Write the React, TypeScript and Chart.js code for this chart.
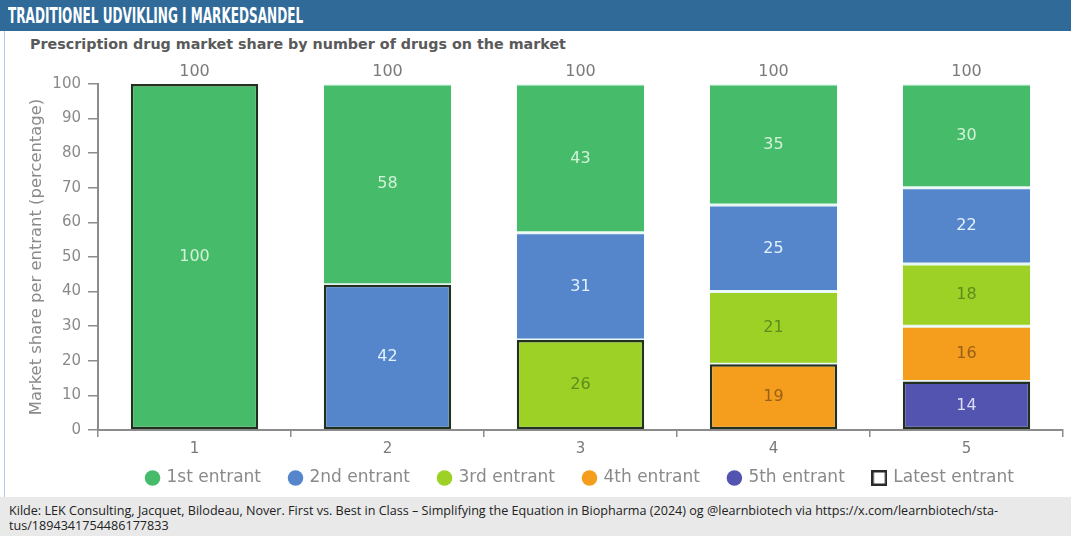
import React, { useEffect, useRef } from "react";
import { Chart, registerables } from "chart.js";

Chart.register(...registerables);

const categories = ["1", "2", "3", "4", "5"];
const firstEntrant = [100, 58, 43, 35, 30];
const secondEntrant = [null, 42, 31, 25, 22];
const thirdEntrant = [null, null, 26, 21, 18];
const fourthEntrant = [null, null, null, 19, 16];
const fifthEntrant = [null, null, null, null, 14];
const seriesNames = ["1st entrant", "2nd entrant", "3rd entrant", "4th entrant", "5th entrant"];
const latestLabel = "Latest entrant";
const yMin = 0;
const yMax = 100;
const yStep = 10;

const titleText = "TRADITIONEL UDVIKLING I MARKEDSANDEL";
const subtitleText = "Prescription drug market share by number of drugs on the market";
const yAxisTitle = "Market share per entrant (percentage)";
const sourceLine1 =
  "Kilde: LEK Consulting, Jacquet, Bilodeau, Nover. First vs. Best in Class – Simplifying the Equation in Biopharma (2024) og @learnbiotech via https://x.com/learnbiotech/sta-";
const sourceLine2 = "tus/1894341754486177833";

const seriesColors = ["#46bb69", "#5586cc", "#9dd125", "#f59d1c", "#5254b0"];
const labelColors = ["#d3f2da", "#e4f1ff", "#5e8c1e", "#99601a", "#dcdcf6"];
const FONT = "'DejaVu Sans', 'Open Sans', sans-serif";
const FOOT_FONT = "'Open Sans', 'Noto Sans', sans-serif";

export default function App() {
  const canvasRef = useRef<HTMLCanvasElement | null>(null);

  useEffect(() => {
    const canvas = canvasRef.current;
    if (!canvas) return;

    const sq = document.createElement("canvas");
    sq.width = 16;
    sq.height = 16;
    const sctx = sq.getContext("2d")!;
    sctx.fillStyle = "#ffffff";
    sctx.fillRect(0, 0, 16, 16);
    sctx.strokeStyle = "#2a2a2a";
    sctx.lineWidth = 2.5;
    sctx.strokeRect(1.25, 1.25, 13.5, 13.5);

    const series = [firstEntrant, secondEntrant, thirdEntrant, fourthEntrant, fifthEntrant];
    const datasets = series
      .map((data, k) => ({
        label: seriesNames[k],
        data,
        backgroundColor: seriesColors[k],
        labelColor: labelColors[k],
        borderColor: (c: any) => (c.dataIndex === k ? "#22301f" : "#e6f7f5"),
        borderWidth: (c: any) =>
          c.dataIndex === k ? 2.5 : { top: 1.5, bottom: 1.5, left: 0, right: 0 },
        borderSkipped: false,
        stack: "s",
      }))
      .reverse();

    const labelsPlugin = {
      id: "segLabels",
      afterLayout(chart: any) {
        const lg = chart.legend;
        const xs = chart.scales.x;
        if (lg && xs) {
          const h = lg.height;
          lg.top = xs.top + 10.5;
          lg.bottom = lg.top + h;
        }
      },
      afterDatasetsDraw(chart: any) {
        const ctx = chart.ctx;
        ctx.save();
        ctx.font = `16px ${FONT}`;
        ctx.textAlign = "center";
        ctx.textBaseline = "middle";
        chart.data.datasets.forEach((ds: any, di: number) => {
          const meta = chart.getDatasetMeta(di);
          meta.data.forEach((el: any, i: number) => {
            const v = ds.data[i];
            if (v == null) return;
            ctx.fillStyle = ds.labelColor;
            ctx.fillText(String(v), el.x, (el.y + el.base) / 2);
          });
        });
        categories.forEach((_, i) => {
          let top = Infinity;
          let total = 0;
          let xx = 0;
          chart.data.datasets.forEach((ds: any, di: number) => {
            const v = ds.data[i];
            if (v == null) return;
            total += v;
            const el = chart.getDatasetMeta(di).data[i];
            top = Math.min(top, el.y);
            xx = el.x;
          });
          ctx.fillStyle = "#7a7a7a";
          ctx.fillText(String(total), xx, top - 12);
        });
        ctx.restore();
      },
    };

    const chart = new Chart(canvas, {
      type: "bar",
      data: { labels: categories, datasets: datasets as any },
      plugins: [labelsPlugin],
      options: {
        animation: false,
        responsive: false,
        layout: { padding: { top: 28, right: 8, bottom: 3, left: 0 } },
        datasets: { bar: { categoryPercentage: 1, barPercentage: 0.66 } },
        plugins: {
          tooltip: { enabled: false },
          title: { display: false },
          legend: {
            position: "bottom",
            fullSize: false,
            onClick: () => {},
            labels: {
              usePointStyle: true,
              boxWidth: 11,
              boxHeight: 11,
              padding: 29,
              color: "#8a8a8a",
              font: { family: FONT, size: 17 },
              generateLabels: () => [
                ...seriesNames.map((n, k) => ({
                  text: n,
                  fillStyle: seriesColors[k],
                  strokeStyle: seriesColors[k],
                  lineWidth: 0,
                  pointStyle: "circle",
                  hidden: false,
                  fontColor: "#8a8a8a",
                  datasetIndex: 4 - k,
                })),
                {
                  text: latestLabel,
                  fillStyle: "#ffffff",
                  strokeStyle: "#2a2a2a",
                  lineWidth: 0,
                  pointStyle: sq,
                  hidden: false,
                  fontColor: "#8a8a8a",
                },
              ],
            },
          },
        },
        scales: {
          x: {
            stacked: true,
            afterFit: (s: any) => {
              s.height = 30;
            },
            grid: {
              offset: true,
              drawOnChartArea: false,
              drawTicks: true,
              tickLength: 7,
              color: "#8c8c8c",
              lineWidth: 1.5,
            },
            border: { color: "#8c8c8c", width: 2 },
            ticks: { color: "#7a7a7a", padding: 3, font: { family: FONT, size: 15 } },
          },
          y: {
            stacked: true,
            min: yMin,
            max: yMax,
            afterFit: (s: any) => {
              s.width = 98;
            },
            grid: {
              drawOnChartArea: false,
              drawTicks: true,
              tickLength: 10,
              color: "#8c8c8c",
              lineWidth: 1.5,
            },
            border: { color: "#8c8c8c", width: 2 },
            ticks: {
              stepSize: yStep,
              color: "#8a8a8a",
              padding: 7,
              font: { family: FONT, size: 15 },
            },
            title: {
              display: true,
              text: yAxisTitle,
              color: "#8a8a8a",
              padding: { top: 27, bottom: 0 },
              font: { family: FONT, size: 16.4 },
            },
          },
        },
      },
    });
    return () => chart.destroy();
  }, []);

  return (
    <div
      style={{
        position: "absolute",
        left: 0,
        top: 0,
        width: 1071,
        height: 536,
        background: "#ffffff",
        overflow: "hidden",
        fontFamily: FOOT_FONT,
      }}
    >
      <div
        style={{
          position: "absolute",
          left: 0,
          top: 0,
          width: 1071,
          height: 31,
          background: "#2f6a99",
        }}
      >
        <span
          style={{
            position: "absolute",
            left: 8,
            top: 2,
            color: "#ffffff",
            fontFamily: "'Liberation Sans Narrow', 'DejaVu Sans Condensed', sans-serif",
            fontWeight: 700,
            fontSize: 22,
            lineHeight: "27px",
            whiteSpace: "nowrap",
            transform: "scaleX(0.61)",
            transformOrigin: "left center",
            display: "inline-block",
          }}
        >
          {titleText}
        </span>
      </div>
      <div
        style={{
          position: "absolute",
          left: 4,
          top: 31,
          width: 1,
          height: 466,
          background: "#b3cbe3",
        }}
      />
      <div
        style={{
          position: "absolute",
          left: 30,
          top: 35,
          color: "#5a5a5a",
          fontFamily: FONT,
          fontWeight: 700,
          fontSize: 14.3,
          lineHeight: "18px",
          whiteSpace: "nowrap",
        }}
      >
        {subtitleText}
      </div>
      <canvas
        ref={canvasRef}
        width={1071}
        height={463}
        style={{ position: "absolute", left: 0, top: 56, width: 1071, height: 463 }}
      />
      <div
        style={{
          position: "absolute",
          left: 0,
          top: 497,
          width: 1071,
          height: 39,
          background: "#e9e9e9",
          color: "#222222",
          fontSize: 12.6,
          lineHeight: "15px",
          boxSizing: "border-box",
          padding: "6px 0 0 9px",
          whiteSpace: "nowrap",
        }}
      >
        <div>{sourceLine1}</div>
        <div>{sourceLine2}</div>
      </div>
    </div>
  );
}
